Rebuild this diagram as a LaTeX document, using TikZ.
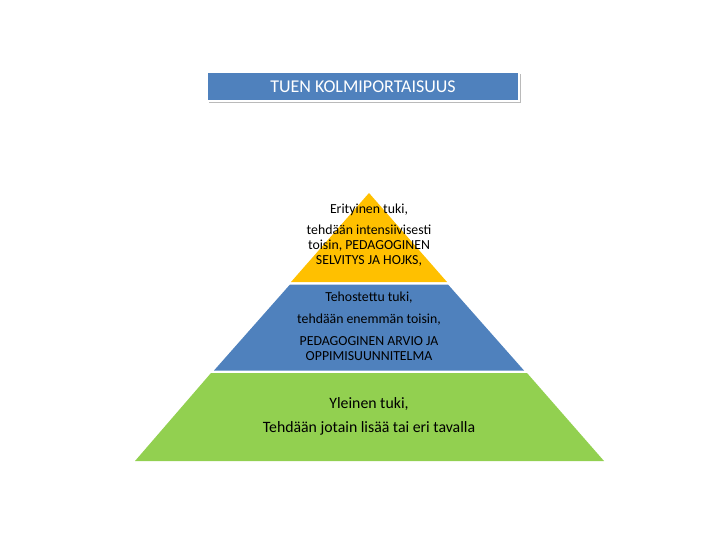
\documentclass[tikz,border=0pt]{standalone}
\usepackage{fontspec}
\setmainfont{Carlito}
\usetikzlibrary{shadows}
\definecolor{ppyellow}{HTML}{FFC000}
\definecolor{ppblue}{HTML}{4F81BD}
\definecolor{ppgreen}{HTML}{92D050}
\begin{document}
\begin{tikzpicture}[x=1pt,y=-1pt,
  tier/.style={draw=none},
  tiertext/.style={align=center,inner sep=0pt,font=\fontsize{13.8}{15}\selectfont},
  titlebox/.style={fill=ppblue,draw=white,line width=1.2pt,minimum width=312pt,minimum height=29pt,
    text=white,font=\fontsize{18}{20}\selectfont,
    drop shadow={shadow xshift=1.5pt,shadow yshift=-2pt,fill=black!45,opacity=0.6}}]
\useasboundingbox (0,0) rectangle (720,540);
% apex (369,193), half-width slope 0.875
\coordinate (apex) at (369,193);
\fill[ppyellow] (apex) -- (447,282) -- (291,282) -- cycle;
\fill[ppblue] (290,284.5) -- (448,284.5) -- (524,370.5) -- (214,370.5) -- cycle;
\fill[ppgreen] (211,373) -- (527,373) -- (604,461) -- (135,461) -- cycle;
\node[titlebox] (title) at (363,86.5) {TUEN KOLMIPORTAISUUS};
\node[tiertext] (y1) at (369,210) {Erityinen tuki,};
\node[tiertext] (y2) at (369,245.5) {tehdään intensiivisesti\\toisin, PEDAGOGINEN\\SELVITYS JA HOJKS,};
\node[tiertext] (b1) at (369,298) {Tehostettu tuki,};
\node[tiertext] (b2) at (369,320) {tehdään enemmän toisin,};
\node[tiertext] (b3) at (369,348.5) {PEDAGOGINEN ARVIO JA\\OPPIMISUUNNITELMA};
\node[tiertext,font=\fontsize{15.8}{18}\selectfont] (g1) at (369,404) {Yleinen tuki,};
\node[tiertext,font=\fontsize{15.8}{18}\selectfont] (g2) at (369,428) {Tehdään jotain lisää tai eri tavalla};
\end{tikzpicture}
\end{document}
